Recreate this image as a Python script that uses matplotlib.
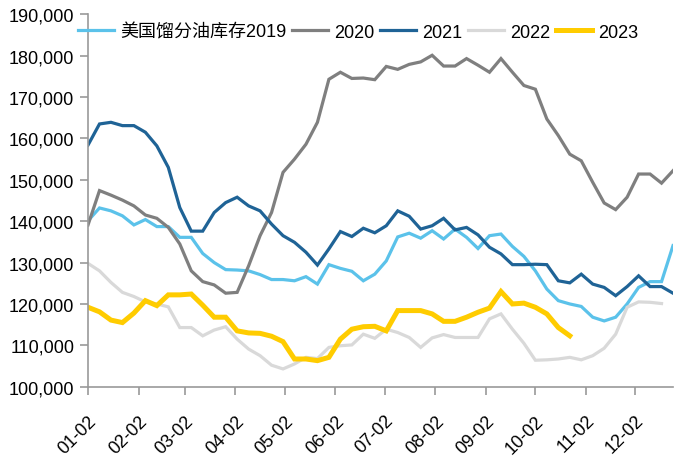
import datetime as dt
import numpy as np
import matplotlib
matplotlib.use("Agg")
import matplotlib.pyplot as plt
from matplotlib import font_manager

# weekly distillate stocks, 52 weeks starting 01-02
s2019 = [140.1, 143.2, 142.5, 141.3, 139.1, 140.4, 138.7, 138.7, 136.1, 136.1, 132.2, 130.0, 128.3,
         128.2, 128.0, 127.1, 125.9, 125.9, 125.6, 126.6, 124.8, 129.5, 128.6, 127.9, 125.6, 127.2,
         130.4, 136.2, 137.1, 135.9, 137.7, 135.7, 138.1, 136.1, 133.4, 136.5, 136.9, 133.9, 131.5,
         128.0, 123.6, 120.8, 120.0, 119.4, 116.8, 115.9, 116.8, 120.0, 124.0, 125.4, 125.4, 134.1]
s2020 = [139.1, 147.4, 146.3, 145.1, 143.7, 141.5, 140.7, 138.5, 134.5, 128.0, 125.4, 124.6, 122.6,
         122.8, 129.2, 136.5, 142.1, 151.8, 155.0, 158.6, 163.9, 174.3, 176.0, 174.5, 174.6, 174.2,
         177.4, 176.7, 177.9, 178.5, 180.1, 177.5, 177.5, 179.3, 177.7, 176.0, 179.3, 176.0, 172.8,
         171.9, 164.7, 160.7, 156.2, 154.6, 149.4, 144.4, 142.8, 145.8, 151.4, 151.4, 149.2, 152.2]
s2021 = [158.4, 163.5, 163.9, 163.1, 163.1, 161.5, 158.2, 153.0, 143.3, 137.6, 137.6, 142.1, 144.5,
         145.8, 143.7, 142.5, 139.3, 136.5, 134.9, 132.5, 129.4, 133.3, 137.5, 136.3, 138.3, 137.2,
         138.9, 142.5, 141.2, 138.1, 138.9, 140.7, 137.9, 138.5, 136.7, 133.7, 132.1, 129.5, 129.5,
         129.6, 129.5, 125.6, 125.1, 127.2, 124.8, 124.0, 122.0, 124.2, 126.8, 124.2, 124.2, 122.6]
s2022 = [129.8, 128.0, 125.2, 122.8, 121.8, 120.5, 120.0, 119.3, 114.3, 114.3, 112.3, 113.7, 114.5,
         111.5, 109.1, 107.5, 105.2, 104.3, 105.5, 107.1, 106.8, 109.5, 109.9, 110.1, 112.7, 111.7,
         113.9, 113.1, 111.9, 109.5, 111.8, 112.6, 111.9, 111.9, 111.9, 116.4, 117.6, 113.9, 110.5,
         106.4, 106.5, 106.7, 107.1, 106.5, 107.5, 109.3, 112.7, 119.2, 120.5, 120.4, 120.1]
s2023 = [119.2, 118.1, 116.1, 115.5, 117.8, 120.8, 119.6, 122.2, 122.2, 122.4, 119.7, 116.8, 116.8,
         113.5, 113.0, 112.9, 112.2, 110.9, 106.7, 106.7, 106.3, 107.1, 111.5, 113.9, 114.5, 114.6,
         113.5, 118.4, 118.4, 118.4, 117.6, 115.8, 115.8, 116.8, 118.0, 119.0, 123.0, 120.0, 120.2,
         119.2, 117.6, 114.3, 112.3]

labels = ["美国馏分油库存2019", "2020", "2021", "2022", "2023"]
series = [s2019, s2020, s2021, s2022, s2023]
colors = ["#5BC2EA", "#7F7F7F", "#1F6396", "#D9D9D9", "#FFCC00"]
widths = [2.3, 2.3, 2.3, 2.3, 3.6]

month_labels = ["%02d-02" % m for m in range(1, 13)]
month_days = [(dt.date(2023, m, 2) - dt.date(2023, 1, 2)).days for m in range(1, 13)]

have = {x.name for x in font_manager.fontManager.ttflist}
latin = "Liberation Sans Narrow" if "Liberation Sans Narrow" in have else "Liberation Sans"
plt.rcParams["font.family"] = [latin, "Noto Sans CJK SC", "DejaVu Sans"]

fig = plt.figure(figsize=(6.85, 4.64), dpi=100)
ax = fig.add_axes([0.1285, 0.1644, 0.8540, 0.8026])

for vals, lab, c, w in zip(series, labels, colors, widths):
    x = np.arange(len(vals)) * 7
    ax.plot(x, np.array(vals) * 1000, color=c, lw=w, label=lab, solid_joinstyle="miter")

ax.set_xlim(0, 357)
ax.set_ylim(100000, 190000)
ax.set_yticks(np.arange(100000, 190001, 10000))
ax.set_yticklabels(["{:,}".format(v) for v in range(100000, 190001, 10000)], fontsize=13)
ax.set_xticks(month_days)
ax.set_xticklabels(month_labels, rotation=45, ha="right", va="top", rotation_mode="anchor",
                   fontsize=13)

for s in ["top", "right"]:
    ax.spines[s].set_visible(False)
for s in ["left", "bottom"]:
    ax.spines[s].set_color("#999999")
    ax.spines[s].set_linewidth(1.2)
ax.tick_params(axis="both", direction="out", length=6, width=1.2, color="#999999")
ax.tick_params(axis="y", pad=4)
ax.tick_params(axis="x", pad=12)

ax.legend(loc="center left", bbox_to_anchor=(-0.03, 0.952), ncol=5, frameon=False, fontsize=13,
          handlelength=2.0, handletextpad=0.35, columnspacing=0.3, borderaxespad=0.0)

fig.savefig("out.png", dpi=100)
